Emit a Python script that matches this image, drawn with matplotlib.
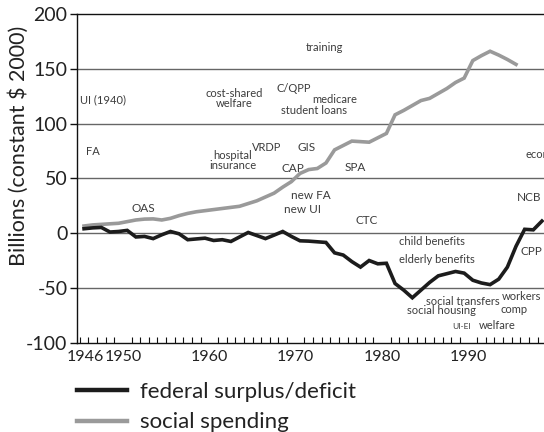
import matplotlib
matplotlib.use("Agg")
import matplotlib.pyplot as plt
from matplotlib.lines import Line2D
from matplotlib.ticker import FixedLocator

plt.rcParams['font.family'] = ['Lato', 'DejaVu Sans']

years_social = list(range(1946, 1997))
social_spending = [6.5, 7.5, 8, 8.5, 9, 10.5, 12, 12.8, 13, 12,
                   13.5, 16, 18, 19.5, 20.5, 21.5, 22.5, 23.5, 24.5, 27,
                   29.5, 33, 36.5, 42, 47, 54.5, 58, 59, 64, 76,
                   80, 84, 83.5, 83, 87, 91, 108, 112, 116.5, 121,
                   123, 127.5, 132, 137.5, 141.5, 157.5, 162, 166, 162.5, 158.5,
                   154]

years_fed = list(range(1946, 2000))
federal_balance = [4, 4.8, 5.2, 1, 1.5, 2.5, -3.5, -3, -5, -1.5,
                   1.5, -0.6, -6, -5.3, -4.6, -6.7, -6, -7.6, -3.5, 0.6,
                   -2.2, -5, -1.8, 1.5, -3, -7, -7.3, -7.9, -8.5, -18,
                   -20, -26, -31, -25, -28, -27.5, -46, -52, -59, -52,
                   -45, -39, -37, -35, -36.5, -43, -45.5, -47, -42, -31,
                   -12, 3.5, 3, 11]

tick_years = ['1946', '1950', '1960', '1970', '1980', '1990']
tick_pos = [1946.1, 1950.5, 1960.5, 1970.5, 1980.5, 1990.5]

labels = [
    ("training", 1973.8, 169, 'center', 8),
    ("UI (1940)", 1945.54, 121.3, 'left', 8),
    ("cost-shared\nwelfare", 1963.36, 123.1, 'center', 8),
    ("FA", 1947.04, 74.7, 'center', 8),
    ("hospital\ninsurance", 1963.25, 66.5, 'center', 8),
    ("VRDP", 1967.15, 78.6, 'center', 8),
    ("GIS", 1971.81, 78.6, 'center', 8.5),
    ("CAP", 1970.13, 59.1, 'center', 8.5),
    ("SPA", 1977.4, 60.3, 'center', 8.5),
    ("C/QPP", 1968.22, 132.3, 'left', 8),
    ("medicare", 1974.99, 121.8, 'center', 8),
    ("student loans", 1972.62, 111.7, 'center', 8),
    ("new FA", 1972.25, 34.5, 'center', 8.5),
    ("new UI", 1971.23, 21.7, 'center', 8.5),
    ("OAS", 1952.86, 22.3, 'center', 8.5),
    ("economic", 1997.08, 71.5, 'left', 8),
    ("NCB", 1996.12, 32.9, 'left', 8.5),
    ("CTC", 1978.75, 11.6, 'center', 8.5),
    ("child benefits", 1982.42, -8.0, 'left', 8),
    ("elderly benefits", 1982.42, -24.0, 'left', 8),
    ("CPP", 1996.5, -16.7, 'left', 8.5),
    ("social transfers", 1989.84, -62.0, 'center', 8),
    ("social housing", 1987.32, -70.7, 'center', 8),
    ("workers", 1994.38, -57.9, 'left', 8),
    ("comp", 1994.18, -69.3, 'left', 8),
    ("UI-EI", 1989.75, -85.0, 'center', 6),
    ("welfare", 1993.86, -84.4, 'center', 8),
]

fig = plt.figure(figsize=(5.44, 4.32), dpi=100)
ax = fig.add_axes([77.3 / 544, 1 - 342.7 / 432, 1 - 77.3 / 544, (342.7 - 14) / 432])

ax.set_xlim(1945.22, 1999.24)
ax.set_ylim(-100, 200)

for v in [-50, 0, 50, 100, 150]:
    ax.axhline(v, color='#666666', lw=1.0, zorder=1)

ax.plot(years_social, social_spending, color='#9a9a9a', lw=2.6, zorder=3,
        solid_joinstyle='miter')
ax.plot(years_fed, federal_balance, color='#1c1c1c', lw=2.6, zorder=4,
        solid_joinstyle='miter')

for txt, x, y, ha, fs in labels:
    ax.text(x, y, txt, ha=ha, va='center', fontsize=fs, color='#3c3c3c',
            linespacing=0.9, zorder=5)

ax.spines['right'].set_visible(False)
for s in ['left', 'bottom', 'top']:
    ax.spines[s].set_color('#111111')
    ax.spines[s].set_linewidth(1.0)

ax.set_yticks([-100, -50, 0, 50, 100, 150, 200])
ax.set_yticklabels(['-100', '-50', '0', '50', '100', '150', '200'])
ax.tick_params(axis='y', direction='out', length=5, width=1, pad=2,
               labelsize=14, colors='#111111', labelcolor='#222222')

ax.set_xticks(tick_pos)
ax.set_xticklabels(tick_years)
ax.xaxis.set_minor_locator(FixedLocator([y + 0.5 for y in range(1945, 2000)]))
ax.tick_params(axis='x', which='major', length=0, pad=5, labelsize=11.5,
               labelcolor='#222222')
ax.tick_params(axis='x', which='minor', direction='in', length=4, width=0.8,
               colors='#111111')

fig.text(19 / 544, 1 - 146 / 432, 'Billions (constant $ 2000)', rotation=90,
         ha='center', va='center', fontsize=15.5, color='#222222')

handles = [Line2D([0], [0], color='#1c1c1c', lw=3.2),
           Line2D([0], [0], color='#9a9a9a', lw=3.2)]
fig.legend(handles, ['federal surplus/deficit', 'social spending'],
           loc='upper left', bbox_to_anchor=(70 / 544, 1 - 375 / 432),
           frameon=False, fontsize=16, handlelength=2.25, handletextpad=0.62,
           labelspacing=0.48, borderaxespad=0, borderpad=0.3,
           labelcolor='#222222')

fig.savefig('out.png', dpi=100)
